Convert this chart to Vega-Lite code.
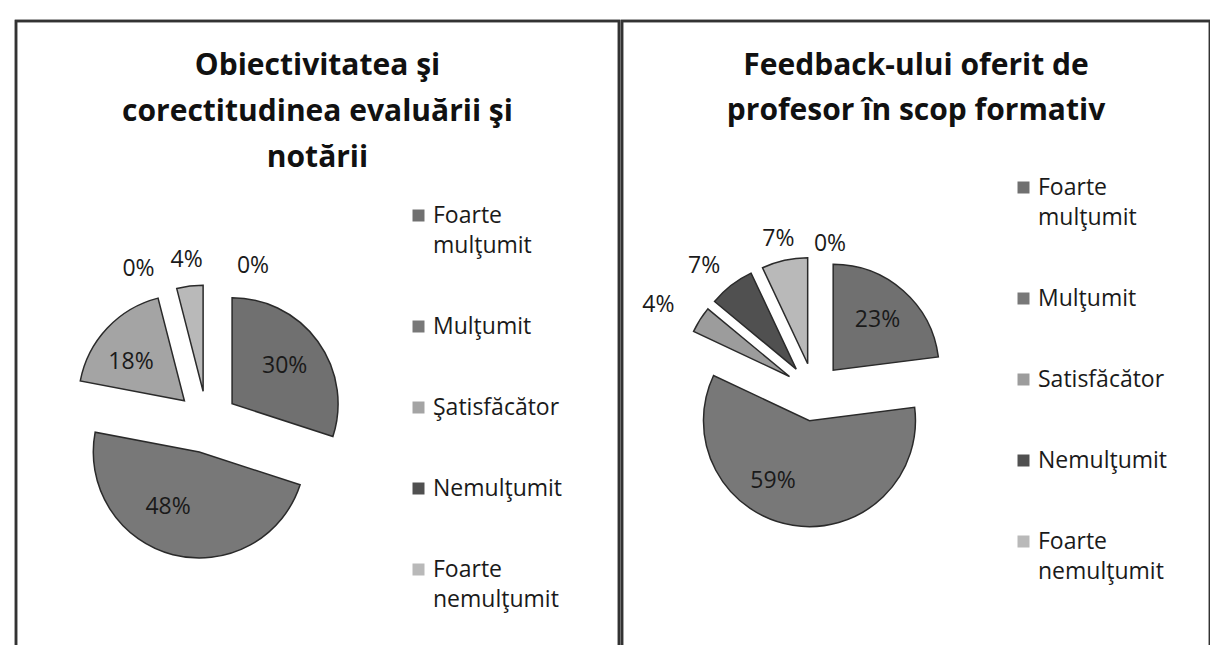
{
  "$schema": "https://vega.github.io/schema/vega-lite/v6.json",
  "background": "white",
  "padding": {"left": 13, "top": 18, "right": 0, "bottom": 0},
  "spacing": -3,
  "config": {"view": {"stroke": "#333333", "strokeWidth": 2.5}, "font": "Open Sans", "style": {"guide-label": {"lineHeight": 30}}},
  "resolve": {"scale": {"color": "independent", "theta": "independent"}, "legend": {"color": "independent"}},
  "hconcat": [
    {
      "width": 603,
      "height": 626,
      "view": {"stroke": "#333333", "strokeWidth": 2.5},
      "title": {"text": ["Obiectivitatea şi", "corectitudinea evaluării şi", "notării"], "font": "Open Sans", "fontSize": 30, "fontWeight": "bold", "color": "#111111", "anchor": "middle", "frame": "group", "baseline": "top", "dy": 157, "lineHeight": 46},
      "data": {"values": [
        {"ord": 1, "cat": "Foarte mulţumit", "v": 0.30},
        {"ord": 2, "cat": "Mulţumit", "v": 0.48},
        {"ord": 3, "cat": "Şatisfăcător", "v": 0.18},
        {"ord": 4, "cat": "Nemulţumit", "v": 0.00},
        {"ord": 5, "cat": "Foarte nemulţumit", "v": 0.04},
        {"ord": 6, "cat": "—", "v": 0.00}
      ]},
      "layer": [
        {
          "data": {"values": [{}]},
          "mark": {"type": "rect", "fill": null, "stroke": "#333333", "strokeWidth": 2.5},
          "encoding": {}
        },
        {
          "mark": {"type": "arc", "outerRadius": 106, "stroke": "#2a2a2a", "strokeWidth": 1.5,
            "x": {"expr": "191 + 31*sin(PI*(datum.v_start + datum.v_end))"},
            "y": {"expr": "401 - 31*cos(PI*(datum.v_start + datum.v_end))"}},
          "encoding": {
            "theta": {"field": "v", "type": "quantitative", "stack": "normalize"},
            "order": {"field": "ord", "type": "quantitative"},
            "color": {
              "field": "cat", "type": "nominal",
              "scale": {"domain": ["Foarte mulţumit", "Mulţumit", "Şatisfăcător", "Nemulţumit", "Foarte nemulţumit", "—"], "range": ["#707070", "#787878", "#a4a4a4", "#505050", "#b9b9b9", "#ffffff"]},
              "legend": {"orient": "none", "legendX": 391, "legendY": 183, "title": null, "padding": 0, "symbolType": "square", "symbolSize": 144, "symbolStrokeWidth": 0, "labelFont": "Open Sans", "labelFontSize": 23, "labelColor": "#1a1a1a", "labelOffset": 3, "rowPadding": 57, "labelLimit": 300,
                "values": ["Foarte mulţumit", "Mulţumit", "Şatisfăcător", "Nemulţumit", "Foarte nemulţumit"],
                "labelExpr": "indexof(datum.label, 'Foarte ') == 0 ? split(datum.label, ' ') : datum.label",
                "encode": {"labels": {"update": {"lineHeight": {"value": 30}}}}}
            },
            "strokeOpacity": {"condition": {"test": "datum.v == 0", "value": 0}, "value": 1}
          }
        },
        {
          "mark": {"type": "text", "x": 191, "y": 401, "font": "Open Sans", "fontSize": 23, "color": "#1a1a1a",
            "radius": {"expr": "datum.v >= 0.1 ? 96 : 163"},
            "dx": {"expr": "datum.ord == 4 ? -28 : datum.ord == 6 ? 46 : datum.ord == 2 ? -15 : datum.ord == 3 ? -6 : 0"},
            "dy": {"expr": "datum.ord == 4 ? 5 : datum.ord == 6 ? 7 : datum.ord == 2 ? -8 : datum.ord == 3 ? 6 : 0"}},
          "encoding": {
            "theta": {"field": "v", "type": "quantitative", "stack": "normalize"},
            "order": {"field": "ord", "type": "quantitative"},
            "text": {"field": "v", "type": "quantitative", "format": ".0%"}
          }
        }
      ]
    },
    {
      "width": 588,
      "height": 626,
      "view": {"stroke": "#333333", "strokeWidth": 2.5},
      "title": {"text": ["Feedback-ului oferit de", "profesor în scop formativ"], "font": "Open Sans", "fontSize": 30, "fontWeight": "bold", "color": "#111111", "anchor": "middle", "frame": "group", "baseline": "top", "dy": 110, "lineHeight": 45},
      "data": {"values": [
        {"ord": 1, "cat": "Foarte mulţumit", "v": 0.23},
        {"ord": 2, "cat": "Mulţumit", "v": 0.59},
        {"ord": 3, "cat": "Satisfăcător", "v": 0.04},
        {"ord": 4, "cat": "Nemulţumit", "v": 0.07},
        {"ord": 5, "cat": "Foarte nemulţumit", "v": 0.07},
        {"ord": 6, "cat": "—", "v": 0.00}
      ]},
      "layer": [
        {
          "data": {"values": [{}]},
          "mark": {"type": "rect", "fill": null, "stroke": "#333333", "strokeWidth": 2.5},
          "encoding": {}
        },
        {
          "mark": {"type": "arc", "outerRadius": 106, "stroke": "#2a2a2a", "strokeWidth": 1.5,
            "x": {"expr": "192 + 29*sin(PI*(datum.v_start + datum.v_end))"},
            "y": {"expr": "371 - 29*cos(PI*(datum.v_start + datum.v_end))"}},
          "encoding": {
            "theta": {"field": "v", "type": "quantitative", "stack": "normalize"},
            "order": {"field": "ord", "type": "quantitative"},
            "color": {
              "field": "cat", "type": "nominal",
              "scale": {"domain": ["Foarte mulţumit", "Mulţumit", "Satisfăcător", "Nemulţumit", "Foarte nemulţumit", "—"], "range": ["#707070", "#787878", "#9c9c9c", "#505050", "#b9b9b9", "#ffffff"]},
              "legend": {"orient": "none", "legendX": 390, "legendY": 155, "title": null, "padding": 0, "symbolType": "square", "symbolSize": 144, "symbolStrokeWidth": 0, "labelFont": "Open Sans", "labelFontSize": 23, "labelColor": "#1a1a1a", "labelOffset": 3, "rowPadding": 57, "labelLimit": 300,
                "values": ["Foarte mulţumit", "Mulţumit", "Satisfăcător", "Nemulţumit", "Foarte nemulţumit"],
                "labelExpr": "indexof(datum.label, 'Foarte ') == 0 ? split(datum.label, ' ') : datum.label",
                "encode": {"labels": {"update": {"lineHeight": {"value": 30}}}}}
            },
            "strokeOpacity": {"condition": {"test": "datum.v == 0", "value": 0}, "value": 1}
          }
        },
        {
          "mark": {"type": "text", "x": 192, "y": 371, "font": "Open Sans", "fontSize": 23, "color": "#1a1a1a",
            "radius": {"expr": "datum.v >= 0.1 ? 96 : 163"},
            "dx": {"expr": "datum.ord == 6 ? 16 : datum.ord == 3 ? -18 : datum.ord == 4 ? -10 : datum.ord == 2 ? -26 : 0"},
            "dy": {"expr": "datum.ord == 6 ? 15 : datum.ord == 5 ? 6 : datum.ord == 4 ? 3 : datum.ord == 2 ? -6 : 0"}},
          "encoding": {
            "theta": {"field": "v", "type": "quantitative", "stack": "normalize"},
            "order": {"field": "ord", "type": "quantitative"},
            "text": {"field": "v", "type": "quantitative", "format": ".0%"}
          }
        }
      ]
    }
  ]
}
